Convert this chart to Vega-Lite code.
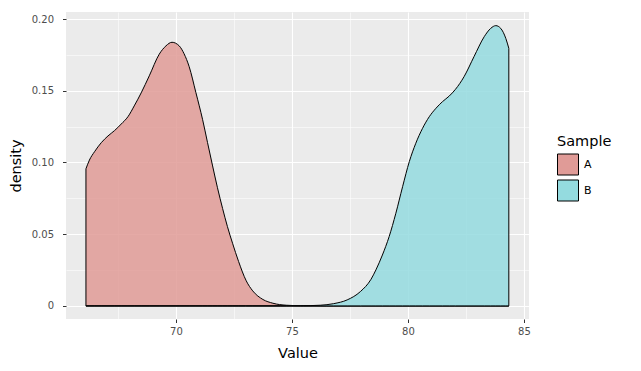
{
  "$schema": "https://vega.github.io/schema/vega-lite/v6.json",
  "width": 463,
  "height": 307,
  "autosize": {"type": "none"},
  "padding": {"left": 66, "top": 12, "right": 112, "bottom": 52},
  "background": "white",
  "config": {
    "view": {"fill": "#EBEBEB", "stroke": null},
    "font": "DejaVu Sans"
  },
  "data": {
    "values": [
      {"Sample": "A", "Value": 66.12, "density": 0.0956},
      {"Sample": "A", "Value": 66.27, "density": 0.1017},
      {"Sample": "A", "Value": 66.49, "density": 0.1075},
      {"Sample": "A", "Value": 66.78, "density": 0.1138},
      {"Sample": "A", "Value": 67.07, "density": 0.1185},
      {"Sample": "A", "Value": 67.35, "density": 0.1222},
      {"Sample": "A", "Value": 67.64, "density": 0.1268},
      {"Sample": "A", "Value": 67.93, "density": 0.1319},
      {"Sample": "A", "Value": 68.22, "density": 0.14},
      {"Sample": "A", "Value": 68.5, "density": 0.1485},
      {"Sample": "A", "Value": 68.85, "density": 0.1604},
      {"Sample": "A", "Value": 69.28, "density": 0.1755},
      {"Sample": "A", "Value": 69.57, "density": 0.1813},
      {"Sample": "A", "Value": 69.83, "density": 0.1838},
      {"Sample": "A", "Value": 70.14, "density": 0.1813},
      {"Sample": "A", "Value": 70.35, "density": 0.1758},
      {"Sample": "A", "Value": 70.57, "density": 0.1668},
      {"Sample": "A", "Value": 70.86, "density": 0.1487},
      {"Sample": "A", "Value": 71.15, "density": 0.1298},
      {"Sample": "A", "Value": 71.36, "density": 0.1140},
      {"Sample": "A", "Value": 71.58, "density": 0.0976},
      {"Sample": "A", "Value": 71.79, "density": 0.0824},
      {"Sample": "A", "Value": 72.01, "density": 0.068},
      {"Sample": "A", "Value": 72.22, "density": 0.0553},
      {"Sample": "A", "Value": 72.44, "density": 0.0437},
      {"Sample": "A", "Value": 72.7, "density": 0.031},
      {"Sample": "A", "Value": 73.03, "density": 0.0175},
      {"Sample": "A", "Value": 73.31, "density": 0.0105},
      {"Sample": "A", "Value": 73.75, "density": 0.0045},
      {"Sample": "A", "Value": 74.18, "density": 0.0019},
      {"Sample": "A", "Value": 74.76, "density": 0.0005},
      {"Sample": "A", "Value": 75.5, "density": 0.0001},
      {"Sample": "A", "Value": 76.5, "density": 0},
      {"Sample": "A", "Value": 78, "density": 0},
      {"Sample": "A", "Value": 80, "density": 0},
      {"Sample": "A", "Value": 82, "density": 0},
      {"Sample": "A", "Value": 84.35, "density": 0},
      {"Sample": "B", "Value": 66.12, "density": 0},
      {"Sample": "B", "Value": 70, "density": 0},
      {"Sample": "B", "Value": 73, "density": 0},
      {"Sample": "B", "Value": 74.5, "density": 0},
      {"Sample": "B", "Value": 75.36, "density": 0.0001},
      {"Sample": "B", "Value": 76.22, "density": 0.0005},
      {"Sample": "B", "Value": 76.8, "density": 0.0016},
      {"Sample": "B", "Value": 77.38, "density": 0.0042},
      {"Sample": "B", "Value": 77.95, "density": 0.01},
      {"Sample": "B", "Value": 78.41, "density": 0.0186},
      {"Sample": "B", "Value": 78.62, "density": 0.0251},
      {"Sample": "B", "Value": 78.9, "density": 0.0355},
      {"Sample": "B", "Value": 79.19, "density": 0.0483},
      {"Sample": "B", "Value": 79.48, "density": 0.0646},
      {"Sample": "B", "Value": 79.77, "density": 0.0831},
      {"Sample": "B", "Value": 80.06, "density": 0.1006},
      {"Sample": "B", "Value": 80.34, "density": 0.1134},
      {"Sample": "B", "Value": 80.63, "density": 0.1238},
      {"Sample": "B", "Value": 80.92, "density": 0.1319},
      {"Sample": "B", "Value": 81.21, "density": 0.1378},
      {"Sample": "B", "Value": 81.49, "density": 0.1424},
      {"Sample": "B", "Value": 81.78, "density": 0.1463},
      {"Sample": "B", "Value": 82.05, "density": 0.151},
      {"Sample": "B", "Value": 82.42, "density": 0.1598},
      {"Sample": "B", "Value": 82.85, "density": 0.1738},
      {"Sample": "B", "Value": 83.29, "density": 0.1877},
      {"Sample": "B", "Value": 83.57, "density": 0.1935},
      {"Sample": "B", "Value": 83.79, "density": 0.1954},
      {"Sample": "B", "Value": 84.0, "density": 0.1935},
      {"Sample": "B", "Value": 84.22, "density": 0.1865},
      {"Sample": "B", "Value": 84.35, "density": 0.1796}
    ]
  },
  "mark": {
    "type": "area",
    "interpolate": "monotone",
    "fillOpacity": 0.85,
    "stroke": "black",
    "strokeWidth": 1,
    "clip": true
  },
  "encoding": {
    "x": {
      "field": "Value",
      "type": "quantitative",
      "title": "Value",
      "scale": {"domain": [65.26, 85.22], "nice": false, "zero": false},
      "axis": {
        "values": [67.5, 70, 72.5, 75, 77.5, 80, 82.5, 85],
        "labelExpr": "datum.value % 5 == 0 ? format(datum.value, 'd') : ''",
        "grid": true,
        "gridColor": "white",
        "gridWidth": {"condition": {"test": "datum.value % 5 == 0", "value": 1.1}, "value": 0.55},
        "domain": false,
        "tickColor": "#333333",
        "tickOpacity": {"condition": {"test": "datum.value % 5 == 0", "value": 1}, "value": 0},
        "tickSize": 3.5,
        "tickWidth": 1,
        "labelFontSize": 10,
        "labelColor": "#4D4D4D",
        "labelPadding": 4,
        "titleFontSize": 14.5,
        "titleFontWeight": "normal",
        "titleColor": "black",
        "titlePadding": 10
      }
    },
    "y": {
      "field": "density",
      "type": "quantitative",
      "title": "density",
      "stack": null,
      "scale": {"domain": [-0.0091, 0.2049], "nice": false, "zero": false},
      "axis": {
        "values": [0, 0.025, 0.05, 0.075, 0.1, 0.125, 0.15, 0.175, 0.2],
        "labelExpr": "abs(datum.value * 20 - round(datum.value * 20)) < 0.0001 ? (datum.value == 0 ? '0' : format(datum.value, '.2f')) : ''",
        "grid": true,
        "gridColor": "white",
        "gridWidth": {"condition": {"test": "abs(datum.value * 20 - round(datum.value * 20)) < 0.0001", "value": 1.1}, "value": 0.55},
        "domain": false,
        "tickColor": "#333333",
        "tickOpacity": {"condition": {"test": "abs(datum.value * 20 - round(datum.value * 20)) < 0.0001", "value": 1}, "value": 0},
        "tickSize": 3.5,
        "tickWidth": 1,
        "labelFontSize": 10,
        "labelColor": "#4D4D4D",
        "labelPadding": 9,
        "titleFontSize": 14.5,
        "titleFontWeight": "normal",
        "titleColor": "black",
        "titlePadding": 8
      }
    },
    "y2": {"datum": 0},
    "color": {
      "field": "Sample",
      "type": "nominal",
      "scale": {"domain": ["A", "B"], "range": ["#E09B97", "#94DBDF"]},
      "legend": {
        "orient": "none",
        "legendX": 491,
        "legendY": 123,
        "title": "Sample",
        "titleFontSize": 14.5,
        "titleFontWeight": "normal",
        "titleColor": "black",
        "titlePadding": 4,
        "symbolType": "square",
        "symbolSize": 441,
        "symbolStrokeColor": "black",
        "symbolStrokeWidth": 1,
        "labelFontSize": 11,
        "labelColor": "black",
        "labelOffset": 5,
        "rowPadding": 0
      }
    }
  }
}
